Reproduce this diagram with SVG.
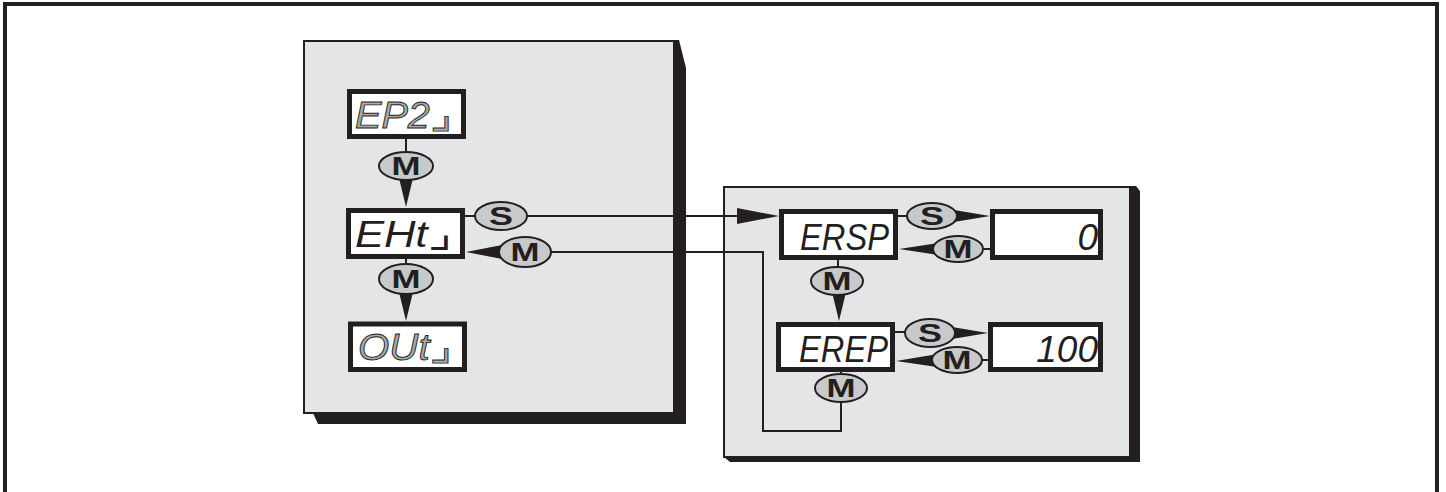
<svg xmlns="http://www.w3.org/2000/svg" width="1446" height="492" viewBox="0 0 1446 492">
<style>
.frame{fill:none;stroke:#231f20;stroke-width:4}
.panel{fill:#e4e5e7;stroke:#231f20;stroke-width:2}
.shadow{fill:#231f20}
.disp{fill:#ffffff;stroke:#231f20;stroke-width:5}
.btn{fill:#c8c9cb;stroke:#231f20;stroke-width:2}
.btxt{font-family:"Liberation Sans",Arial,sans-serif;font-weight:bold;font-size:26px;fill:#231f20;text-anchor:middle}
.seg{font-family:"Liberation Sans","DejaVu Sans",sans-serif;font-style:italic;font-size:37px;fill:#231f20}
.hook{font-family:"DejaVu Sans",sans-serif;font-style:normal;font-size:44px}
.hollow{fill:#a9aaac;stroke:#231f20;stroke-width:0.9}
.ln{fill:none;stroke:#231f20;stroke-width:2}
.tri{fill:#231f20}
</style>
<path class="frame" d="M5,492 V4 H1437 V492"/>

<g id="panel-left">
<polygon class="shadow" points="674,40 679,40 686,68 686,424 318,424 313,413"/>
<rect class="panel" x="304" y="41" width="370" height="372"/>
</g>
<g id="panel-right">
<polygon class="shadow" points="1128,186 1136,186 1140,191 1140,462 730,462 724,457"/>
<rect class="panel" x="724" y="187" width="406" height="270"/>
</g>

<g id="connectors">
<line class="ln" x1="406" y1="139" x2="406" y2="152"/>
<polygon class="tri" points="399,178 413,178 406,207"/>
<line class="ln" x1="406" y1="259" x2="406" y2="265"/>
<polygon class="tri" points="399,292 413,292 406,321"/>
<line class="ln" x1="465" y1="216" x2="476" y2="216"/>
<polyline class="ln" points="526,216 740,216"/>
<polygon class="tri" points="737,208 737,224 779,216"/>
<polygon class="tri" points="502,245 502,259 466,252"/>
<polyline class="ln" points="550,252 763,252 763,431 841,431 841,402"/>
<line class="ln" x1="898" y1="216" x2="908" y2="216"/>
<polygon class="tri" points="942,208 942,224 990,216"/>
<polygon class="tri" points="945,242 945,256 899,249"/>
<line class="ln" x1="982" y1="249" x2="990" y2="249"/>
<line class="ln" x1="838" y1="260" x2="838" y2="268"/>
<polygon class="tri" points="832,292 846,292 839,321"/>
<line class="ln" x1="895" y1="332" x2="906" y2="332"/>
<polygon class="tri" points="940,325 940,341 988,333"/>
<polygon class="tri" points="944,353 944,368 896,361"/>
<line class="ln" x1="981" y1="360" x2="988" y2="360"/>
<line class="ln" x1="841" y1="372" x2="841" y2="375"/>
</g>

<g id="btn-m1"><ellipse class="btn" cx="406" cy="166" rx="27" ry="14"/><text class="btxt" x="406" y="175.3" textLength="29" lengthAdjust="spacingAndGlyphs">M</text></g>
<g id="btn-m2"><ellipse class="btn" cx="406" cy="279" rx="27" ry="15"/><text class="btxt" x="406" y="288.3" textLength="29" lengthAdjust="spacingAndGlyphs">M</text></g>
<g id="btn-s1"><ellipse class="btn" cx="501" cy="216" rx="26" ry="14"/><text class="btxt" x="501" y="225.3" textLength="24" lengthAdjust="spacingAndGlyphs">S</text></g>
<g id="btn-m3"><ellipse class="btn" cx="525" cy="252" rx="26" ry="15"/><text class="btxt" x="525" y="261.3" textLength="29" lengthAdjust="spacingAndGlyphs">M</text></g>
<g id="btn-s2"><ellipse class="btn" cx="932" cy="216" rx="25" ry="13"/><text class="btxt" x="932" y="225.3" textLength="24" lengthAdjust="spacingAndGlyphs">S</text></g>
<g id="btn-m4"><ellipse class="btn" cx="958" cy="249" rx="25" ry="13"/><text class="btxt" x="958" y="258.3" textLength="29" lengthAdjust="spacingAndGlyphs">M</text></g>
<g id="btn-m5"><ellipse class="btn" cx="837" cy="281" rx="26" ry="14"/><text class="btxt" x="837" y="290.3" textLength="29" lengthAdjust="spacingAndGlyphs">M</text></g>
<g id="btn-s3"><ellipse class="btn" cx="930" cy="333" rx="25" ry="14"/><text class="btxt" x="930" y="342.3" textLength="24" lengthAdjust="spacingAndGlyphs">S</text></g>
<g id="btn-m6"><ellipse class="btn" cx="957" cy="360" rx="25" ry="13"/><text class="btxt" x="957" y="369.3" textLength="29" lengthAdjust="spacingAndGlyphs">M</text></g>
<g id="btn-m7"><ellipse class="btn" cx="841" cy="388" rx="26" ry="14"/><text class="btxt" x="841" y="397.3" textLength="29" lengthAdjust="spacingAndGlyphs">M</text></g>

<g id="disp-ep2"><rect class="disp" x="349.5" y="91.5" width="114" height="45"/><text class="seg hollow" x="355" y="128" textLength="97" lengthAdjust="spacingAndGlyphs">EP2<tspan class="hook">⌟</tspan></text></g>
<g id="disp-eht"><rect class="disp" x="348.5" y="210.5" width="114" height="46"/><text class="seg" x="355" y="247" textLength="97" lengthAdjust="spacingAndGlyphs">EHt<tspan class="hook">⌟</tspan></text></g>
<g id="disp-out"><rect class="disp" x="350.5" y="324" width="114" height="45.5"/><text class="seg hollow" x="358" y="360" textLength="94" lengthAdjust="spacingAndGlyphs">OUt<tspan class="hook">⌟</tspan></text></g>
<g id="disp-ersp"><rect class="disp" x="781.5" y="211.5" width="114" height="46"/><text class="seg" x="800" y="250" textLength="89" lengthAdjust="spacingAndGlyphs">ERSP</text></g>
<g id="disp-erep"><rect class="disp" x="778.5" y="324.5" width="114" height="45"/><text class="seg" x="799" y="362" textLength="89" lengthAdjust="spacingAndGlyphs">EREP</text></g>
<g id="disp-val0"><rect class="disp" x="992.5" y="211.5" width="108" height="46"/><text class="seg" x="1098" y="250" text-anchor="end">0</text></g>
<g id="disp-val100"><rect class="disp" x="990.5" y="324.5" width="110" height="45"/><text class="seg" x="1098" y="362" text-anchor="end">100</text></g>
</svg>
